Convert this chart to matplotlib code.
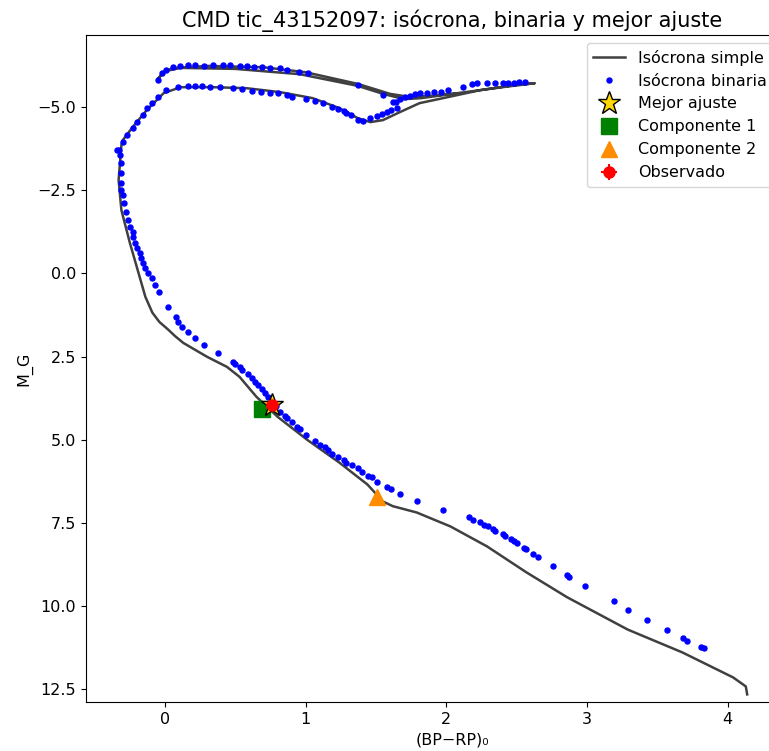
import numpy as np
import matplotlib
matplotlib.use("Agg")
from matplotlib import pyplot as plt

# isócrona simple (traza de la línea)
iso_bp_rp = [4.14, 4.13, 4.04, 3.68, 3.29, 2.86, 2.57, 2.29, 2.03, 1.79, 1.62, 1.55,
             1.44, 1.24, 1.01, 0.80, 0.65, 0.53, 0.44, 0.30, 0.13, 0.07, 0.02, -0.04,
             -0.09, -0.14, -0.18, -0.25, -0.31, -0.33, -0.31, -0.30, -0.23, -0.13, -0.01, 0.11,
             0.34, 0.58, 0.82, 1.05, 1.24, 1.37, 1.46, 1.55, 1.67, 1.81, 2.01, 2.24,
             2.48, 2.63, 2.40, 2.08, 1.82, 1.70, 1.55, 1.37, 0.96, 0.50, 0.11, 0.00,
             -0.05, -0.02, 0.05, 0.30, 0.70, 1.00, 1.37, 1.60, 1.75, 2.00, 2.10]
iso_mg = [12.66, 12.42, 12.15, 11.40, 10.71, 9.74, 8.99, 8.21, 7.61, 7.19, 7.00, 6.86,
          6.35, 5.69, 5.00, 4.31, 3.71, 3.11, 2.81, 2.51, 2.09, 1.88, 1.68, 1.46,
          1.18, 0.70, 0.11, -0.92, -1.90, -2.81, -3.86, -4.01, -4.40, -4.91, -5.42, -5.60,
          -5.60, -5.57, -5.45, -5.27, -4.97, -4.67, -4.55, -4.61, -4.85, -5.12, -5.30, -5.51,
          -5.66, -5.72, -5.60, -5.42, -5.27, -5.24, -5.40, -5.64, -5.99, -6.15, -6.18, -6.08,
          -5.85, -6.02, -6.17, -6.24, -6.20, -6.05, -5.70, -5.40, -5.30, -5.38, -5.42]

# isócrona binaria (puntos)
bin_bp_rp = [3.83, 3.81, 3.71, 3.68, 3.57, 3.43, 3.29, 3.19, 2.99, 2.87, 2.86, 2.76,
             2.65, 2.62, 2.57, 2.55, 2.50, 2.48, 2.46, 2.42, 2.40, 2.35, 2.33, 2.30,
             2.27, 2.24, 2.19, 2.16, 1.98, 1.79, 1.67, 1.61, 1.58, 1.51, 1.47, 1.44,
             1.40, 1.37, 1.33, 1.29, 1.27, 1.23, 1.19, 1.16, 1.14, 1.10, 1.07, 1.00,
             0.96, 0.94, 0.90, 0.87, 0.85, 0.82, 0.79, 0.76, 0.73, 0.71, 0.69, 0.66,
             0.64, 0.62, 0.59, 0.55, 0.53, 0.50, 0.48, 0.38, 0.28, 0.21, 0.16, 0.12,
             0.09, 0.08, 0.02, -0.04, -0.07, -0.09, -0.12, -0.14, -0.16, -0.17, -0.18,
             -0.20, -0.21, -0.23, -0.23, -0.25, -0.26, -0.28, -0.29, -0.30, -0.31, -0.31,
             -0.31, -0.31, -0.32, -0.34,
             -0.33, -0.30, -0.27, -0.23, -0.20, -0.16, -0.13, -0.09, -0.05, 0.01, 0.09,
             0.16, 0.21, 0.26, 0.32, 0.39, 0.48, 0.55, 0.62, 0.68, 0.75, 0.80, 0.87,
             0.90, 1.00, 1.07, 1.12, 1.19, 1.23, 1.27, 1.29, 1.32, 1.37, 1.41, 1.46,
             1.51, 1.54, 1.58, 1.61, 1.65, 1.64, 1.67, 1.71, 1.74, 1.78, 1.81, 1.86,
             1.91, 1.96, 2.01, 2.12, 2.18, 2.22, 2.29, 2.35, 2.40, 2.44, 2.48, 2.52, 2.56,
             -0.05, -0.02, 0.01, 0.06, 0.11, 0.16, 0.21, 0.28, 0.34, 0.41, 0.46, 0.53,
             0.58, 0.63, 0.69, 0.75, 0.82, 0.87, 0.95, 1.02, 1.37, 1.55, 1.62]
bin_mg = [11.28, 11.22, 11.04, 10.95, 10.71, 10.41, 10.11, 9.86, 9.41, 9.14, 9.08, 8.81,
          8.54, 8.45, 8.30, 8.27, 8.12, 8.06, 8.00, 7.91, 7.85, 7.76, 7.70, 7.61,
          7.58, 7.49, 7.43, 7.34, 7.13, 6.83, 6.62, 6.47, 6.41, 6.26, 6.11, 6.08,
          5.96, 5.84, 5.75, 5.69, 5.60, 5.51, 5.42, 5.30, 5.21, 5.15, 5.03, 4.85,
          4.67, 4.61, 4.46, 4.34, 4.28, 4.16, 3.98, 3.83, 3.71, 3.59, 3.47, 3.35,
          3.26, 3.14, 3.02, 2.90, 2.81, 2.72, 2.66, 2.39, 2.15, 1.94, 1.76, 1.61,
          1.46, 1.31, 1.01, 0.56, 0.35, 0.14, -0.02, -0.17, -0.32, -0.47, -0.62,
          -0.77, -0.92, -1.10, -1.25, -1.40, -1.61, -1.85, -2.12, -2.36, -2.51, -2.72,
          -3.02, -3.32, -3.56, -3.71,
          -3.71, -3.95, -4.16, -4.37, -4.55, -4.76, -4.97, -5.12, -5.30, -5.51, -5.60,
          -5.63, -5.63, -5.63, -5.60, -5.60, -5.57, -5.54, -5.48, -5.45, -5.42, -5.42, -5.36,
          -5.30, -5.24, -5.18, -5.12, -5.00, -4.94, -4.88, -4.82, -4.76, -4.61, -4.58, -4.67,
          -4.73, -4.79, -4.85, -4.91, -4.97, -5.15, -5.24, -5.30, -5.33, -5.39, -5.42, -5.42,
          -5.45, -5.45, -5.51, -5.60, -5.69, -5.72, -5.72, -5.72, -5.72, -5.72, -5.72, -5.75, -5.75,
          -5.81, -6.02, -6.11, -6.20, -6.23, -6.26, -6.26, -6.23, -6.26, -6.26, -6.26, -6.23,
          -6.23, -6.20, -6.20, -6.17, -6.17, -6.11, -6.05, -6.02, -5.66, -5.36, -5.15]

# mejor ajuste, componentes y observado
best_fit = (0.76, 3.95)
comp1 = (0.69, 4.07)
comp2 = (1.51, 6.71)
observed = (0.76, 3.97)
observed_err = (0.01, 0.03)

fig = plt.figure(figsize=(7.69, 7.51), dpi=100)
ax = fig.add_axes([0.1118, 0.0652, 0.952, 0.888])

ax.plot(iso_bp_rp, iso_mg, color='k', alpha=0.75, lw=1.8, label='Isócrona simple')
ax.plot(bin_bp_rp, bin_mg, 'o', color='blue', ms=3.6, ls='none', label='Isócrona binaria')
ax.plot(*comp1, 's', color='green', ms=12, label='Componente 1', zorder=3)
ax.plot(*comp2, '^', color='darkorange', ms=12, label='Componente 2', zorder=3)
ax.plot(*best_fit, '*', mfc='gold', mec='black', ms=17, label='Mejor ajuste', zorder=4)
ax.errorbar(observed[0], observed[1], xerr=observed_err[0], yerr=observed_err[1],
            fmt='o', color='red', ms=8, label='Observado', zorder=5)

handles, labels = ax.get_legend_handles_labels()
order = ['Isócrona simple', 'Isócrona binaria', 'Mejor ajuste', 'Componente 1',
         'Componente 2', 'Observado']
idx = [labels.index(o) for o in order]
ax.legend([handles[i] for i in idx], [labels[i] for i in idx], loc='upper right',
          bbox_to_anchor=(0.950, 1.0), fontsize=11.5)

ax.set_xlim(-0.562, 4.644)
ax.set_ylim(12.89, -7.165)
ax.set_xticks([0, 1, 2, 3, 4])
ax.set_yticks([-5.0, -2.5, 0.0, 2.5, 5.0, 7.5, 10.0, 12.5])
ax.tick_params(labelsize=11.5)
ax.set_xlabel('(BP−RP)₀', fontsize=11.5)
ax.set_ylabel('M_G', fontsize=11.5)
ax.set_title('CMD tic_43152097: isócrona, binaria y mejor ajuste', fontsize=15)

fig.savefig('out.png', dpi=100)
